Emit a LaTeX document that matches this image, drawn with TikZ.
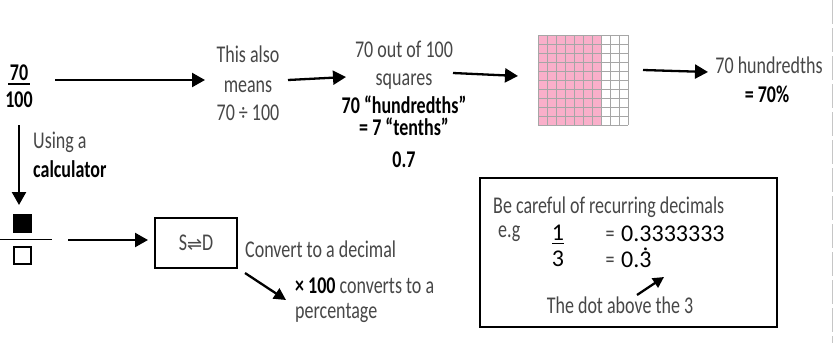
\documentclass[tikz,border=0pt]{standalone}
\usepackage{fontspec}
\setmainfont[FakeStretch=0.75]{Carlito}
\newfontfamily\plainfont{Carlito}
\newfontfamily\symfont{DejaVu Sans}
\usetikzlibrary{arrows.meta}
\definecolor{hand}{gray}{0.28}
\definecolor{gridpink}{RGB}{250,175,202}
\tikzset{
  lite/.style={font=\fontsize{24}{26}\selectfont, text=hand, inner sep=0pt, anchor=base},
  bld/.style={font=\fontsize{24}{26}\selectfont\bfseries, text=black, inner sep=0pt, anchor=base},
  num/.style={font=\plainfont\fontsize{24}{26}\selectfont, text=black, inner sep=0pt, anchor=base west,
              text height=15pt, text depth=0pt},
  arr/.style={line width=2.3pt, -{Triangle[length=13pt,width=14pt]}},
  sarr/.style={line width=2.3pt, -{Triangle[length=12pt,width=12pt]}}
}
\begin{document}
\begin{tikzpicture}[x=1pt,y=-1pt]
\useasboundingbox (0,0) rectangle (834,343);
\fill[white] (0,0) rectangle (834,343);
% right dashed edge
\draw[gray!45, line width=1.3pt, dash pattern=on 24pt off 4pt] (832.5,0) -- (832.5,343);

% 70/100
\node[bld] (n70) at (19,80) {70};
\node[bld] (n100) at (19,107) {100};
\draw[line width=1.6pt] (8,84) -- (30,84);

\coordinate (a1s) at (55,80); \coordinate (a1e) at (205,80);
\draw[arr] (a1s) -- (a1e);

\node[lite] (t1) at (248,62) {This also};
\node[lite] (t2) at (248,92) {means};
\node[lite] (t3) at (248,120) {70 ÷ 100};

\coordinate (a2s) at (288,80); \coordinate (a2e) at (346,77);
\draw[arr] (a2s) -- (a2e);

\node[lite] (u1) at (404,57) {70 out of 100};
\node[lite] (u2) at (404,85) {squares};
\node[bld] (u3) at (404,113) {70 “hundredths”};
\node[bld] (u4) at (404,135) {= 7 “tenths”};
\node[bld] (u5) at (404,167) {0.7};

\coordinate (a3s) at (453,73); \coordinate (a3e) at (518,76);
\draw[arr] (a3s) -- (a3e);

% hundred grid
\fill[gridpink] (538,35) rectangle (601,125);
\foreach \i in {0,...,10} {
  \draw[gray!70, line width=0.8pt] ({538+9*\i},35) -- ({538+9*\i},125);
  \draw[gray!70, line width=0.8pt] (538,{35+9*\i}) -- (628,{35+9*\i});
}

\coordinate (a4s) at (643,70); \coordinate (a4e) at (708,72);
\draw[arr] (a4s) -- (a4e);

\node[lite] (h1) at (769,73) {70 hundredths};
\node[bld] (h2) at (767,102) {= 70\%};

% down arrow
\coordinate (d1s) at (19,125); \coordinate (d1e) at (19,205);
\draw[arr] (d1s) -- (d1e);
\node[lite, anchor=base west] (c1) at (33,148) {Using a};
\node[bld, anchor=base west] (c2) at (33,177) {calculator};

% fraction symbol
\fill[black] (13,214) rectangle (32,233);
\draw[line width=1.3pt] (0,239.5) -- (52,239.5);
\draw[line width=2pt] (14,247) rectangle (31,264);

\coordinate (a5s) at (68,240); \coordinate (a5e) at (148,240);
\draw[arr] (a5s) -- (a5e);

\node[draw, line width=1.2pt, minimum width=82pt, minimum height=50pt, inner sep=0pt,
      font=\fontsize{24}{26}\selectfont, text=hand] (sd) at (196,243) {S{\symfont\fontsize{18}{20}\selectfont ⇌}D};
\node[lite, anchor=base west] (cv) at (245,257) {Convert to a decimal};

\coordinate (a6s) at (245,273); \coordinate (a6e) at (286,300);
\draw[sarr] (a6s) -- (a6e);

\node[lite, anchor=base west] (x1) at (295,293) {\textcolor{black}{\bfseries × 100} converts to a};
\node[lite, anchor=base west] (x2) at (295,318) {percentage};

% recurring box
\node[draw, line width=2.5pt, minimum width=297pt, minimum height=149pt, inner sep=0pt] (rbox) at (628.5,252.5) {};
\node[lite, anchor=base west] (r1) at (493,213) {Be careful of recurring decimals};
\node[lite, anchor=base west] (r2) at (498,237) {e.g};
\node[num, anchor=base] (r3) at (558,240) {1};
\draw[line width=1.6pt] (552,243.5) -- (564,243.5);
\node[num, anchor=base] (r4) at (558,266) {3};
\node[lite, anchor=base, text height=8pt, text depth=0pt] (r5) at (610,241) {=};
\node[num] (r6) at (621,241) {0.3333333};
\node[lite, anchor=base, text height=8pt, text depth=0pt] (r7) at (610,267) {=};
\node[num] (r8) at (621,267) {0.\ooalign{3\cr\hidewidth\raisebox{3pt}{˙}\hidewidth\cr}};
\coordinate (a7s) at (637,295); \coordinate (a7e) at (664,277);
\draw[line width=2.3pt, -{Triangle[length=11pt,width=11pt]}] (a7s) -- (a7e);
\node[lite] (r9) at (620,313) {The dot above the 3};
\end{tikzpicture}
\end{document}
